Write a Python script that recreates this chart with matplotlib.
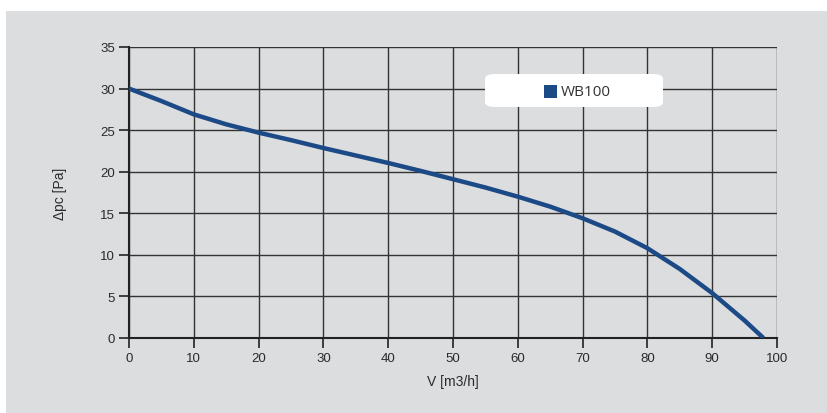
import matplotlib.pyplot as plt
from matplotlib.patches import Rectangle, FancyBboxPatch

# Kennlinie WB100
flow = [0, 5, 10, 15, 20, 25, 30, 35, 40, 45, 50, 55, 60, 65, 70, 75, 80, 85, 90, 95, 97.9]
pressure = [30, 28.5, 26.9, 25.7, 24.7, 23.8, 22.85, 21.95, 21.05, 20.1, 19.1, 18.1, 17.0, 15.8, 14.4, 12.8, 10.8, 8.3, 5.4, 2.1, 0]
series_name = 'WB100'

x_ticks = list(range(0, 101, 10))
y_ticks = list(range(0, 36, 5))

plt.rcParams['font.family'] = ['Liberation Sans', 'DejaVu Sans']

W, H = 827, 414
fig = plt.figure(figsize=(W / 100, H / 100), dpi=100)
fig.patch.set_facecolor('white')
fig.patches.append(Rectangle((6 / W, 0), 1 - 6 / W, (H - 12) / H,
                             transform=fig.transFigure, facecolor='#dcdddf',
                             edgecolor='none', zorder=-10))

ax = fig.add_axes([129 / W, (H - 339) / H, (777 - 129) / W, (339 - 48) / H])
ax.set_facecolor('none')

ax.plot(flow, pressure, color='#1c4a87', linewidth=3.2, solid_capstyle='butt',
        solid_joinstyle='round', zorder=3)

ax.set_xlim(0, 100)
ax.set_ylim(0, 35)
ax.set_xticks(x_ticks)
ax.set_yticks(y_ticks)
ax.grid(True, color='#333333', linewidth=1.0)
for s in ['top', 'right']:
    ax.spines[s].set_visible(False)
for s in ['left', 'bottom']:
    ax.spines[s].set_color('#222222')
    ax.spines[s].set_linewidth(1.5)
ax.tick_params(direction='out', length=7, width=1.2, color='#222222',
               labelsize=9.5, labelcolor='#2a2a2a', pad=3)
ax.set_axisbelow(True)

ax.set_xlabel('V [m3/h]', fontsize=10, color='#2a2a2a', labelpad=7)
ax.set_ylabel('\u0394pc [Pa]', fontsize=10, color='#2a2a2a', labelpad=24)

# Legende als weisse abgerundete Box
box = FancyBboxPatch((485 / W, (H - 108) / H), (663 - 485) / W, 33 / H,
                     boxstyle='round,pad=0,rounding_size=0.012',
                     transform=fig.transFigure, facecolor='white',
                     edgecolor='none', zorder=5)
fig.patches.append(box)
fig.patches.append(Rectangle((544 / W, (H - 99) / H), 13 / W, 13 / H,
                             transform=fig.transFigure, facecolor='#1c4a87',
                             edgecolor='none', zorder=6))
fig.text(561 / W, (H - 92) / H, series_name, fontsize=11, color='#333333',
         family=['Open Sans', 'DejaVu Sans'], va='center', ha='left', zorder=7)

fig.savefig('out.png', dpi=100)
